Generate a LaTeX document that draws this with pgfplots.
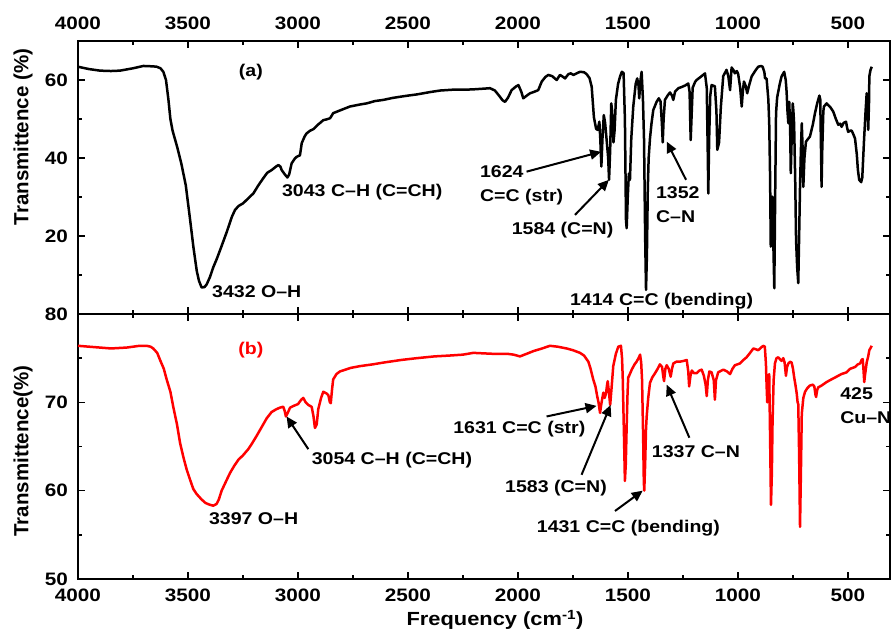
\documentclass[border=0pt]{standalone}
\usepackage{pgfplots}
\pgfplotsset{compat=1.18}
\usepackage{pgfplotstable}
\usepackage{fontspec}
\setmainfont{Liberation Sans}[FakeStretch=1.15]
\newfontfamily\rotfont{Liberation Sans}
\usetikzlibrary{arrows.meta}

\pgfplotstableread{
wn T
4000 63.4
3950 62.8
3900 62.4
3850 62.3
3809 62.4
3750 63.0
3703 63.6
3660 63.5
3642 63.4
3625 63.0
3612 62.1
3600 60.0
3589 55.0
3580 50.0
3570 47.0
3550 43.0
3530 38.5
3510 33.0
3490 24.0
3475 17.0
3460 11.0
3450 8.5
3438 6.8
3425 6.9
3415 7.6
3400 9.5
3385 12.0
3370 14.0
3350 17.0
3324 21.0
3300 25.0
3286 26.7
3270 27.7
3249 28.4
3220 30.0
3203 30.9
3180 33.0
3158 34.8
3140 36.2
3120 36.9
3100 37.8
3089 38.2
3080 37.8
3074 36.9
3060 35.8
3048 35.0
3040 35.8
3029 38.6
3015 39.8
3006 40.3
2991 40.7
2983 43.8
2970 45.5
2961 46.3
2945 47.0
2930 47.4
2910 48.5
2885 49.7
2870 49.9
2854 50.2
2840 51.5
2800 52.4
2764 53.2
2720 53.7
2688 54.0
2650 54.6
2612 54.9
2570 55.4
2536 55.7
2500 56.0
2460 56.3
2400 56.9
2354 57.3
2300 57.5
2250 57.5
2203 57.6
2150 57.8
2127 57.9
2105 57.3
2089 56.2
2070 54.8
2059 54.4
2045 55.5
2029 57.4
2010 58.3
1998 58.7
1985 57.0
1976 55.3
1960 56.0
1945 56.6
1925 57.0
1908 57.4
1892 59.6
1875 60.8
1862 61.3
1845 61.0
1824 60.0
1809 61.3
1795 60.8
1786 60.4
1771 61.5
1760 61.7
1748 61.3
1730 61.8
1718 62.1
1700 62.0
1688 61.5
1675 60.5
1665 58.3
1655 50.5
1645 47.5
1638 47.2
1630 49.3
1626 45.0
1621 37.8
1616 45.0
1610 51.0
1604 49.0
1597 44.6
1590 40.0
1586 34.4
1581 42.0
1576 54.0
1572 52.0
1566 44.0
1561 47.0
1555 54.9
1545 59.0
1536 60.9
1528 62.1
1520 61.8
1514 50.0
1509 24.0
1506 22.0
1501 30.0
1496 36.0
1491 34.4
1485 45.0
1476 53.2
1465 59.0
1458 60.4
1452 58.5
1449 55.3
1443 60.0
1438 62.1
1432 55.0
1427 44.6
1422 20.0
1418 6.2
1414 15.0
1410 32.0
1406 40.0
1400 45.0
1393 48.9
1385 52.3
1370 54.4
1360 55.3
1352 54.5
1346 49.0
1342 44.0
1338 50.0
1332 54.9
1320 56.0
1309 56.8
1300 56.0
1294 54.9
1286 57.0
1271 57.9
1256 58.2
1240 58.6
1226 59.1
1220 57.0
1215 44.6
1210 52.0
1206 58.0
1195 59.5
1188 60.0
1165 61.0
1150 61.7
1142 58.0
1137 40.0
1135 30.9
1131 45.0
1126 56.0
1120 58.7
1105 58.4
1098 52.0
1094 42.1
1090 43.0
1086 44.0
1078 53.0
1067 61.0
1052 62.6
1044 61.0
1036 57.4
1029 63.2
1020 62.5
1014 61.7
1005 62.3
999 61.5
990 58.0
983 53.2
978 57.0
973 59.6
965 58.5
958 56.6
950 58.5
938 60.9
920 62.5
908 63.4
895 63.6
888 63.4
880 62.0
877 60.4
870 60.4
862 55.0
858 48.9
854 35.0
851 17.3
848 25.0
844 30.1
840 20.0
835 6.6
831 30.0
827 51.5
822 55.5
817 57.0
810 59.0
802 60.9
790 62.1
783 60.0
779 57.0
775 52.0
771 48.9
767 54.4
763 48.0
760 36.1
756 45.0
751 54.0
748 52.0
745 48.9
740 35.0
736 19.0
731 12.0
726 7.9
722 20.0
718 32.6
714 42.0
710 48.9
706 42.0
703 32.6
698 40.0
691 44.2
680 45.0
673 45.5
660 48.5
650 51.5
640 54.0
630 56.0
626 55.0
622 40.0
620 32.6
617 42.0
612 52.0
609 53.2
597 54.0
580 53.0
567 51.9
555 50.0
544 48.5
535 48.8
529 48.0
520 49.0
509 49.3
503 47.5
499 46.7
490 47.0
483 47.0
475 46.0
468 45.0
460 41.0
455 37.0
449 34.4
440 33.8
435 35.0
427 44.6
420 52.0
415 56.6
410 52.0
408 47.2
404 55.0
403 60.9
398 62.5
392 63.4
}\dataA

\pgfplotstableread{
wn T
4000 76.4
3950 76.3
3900 76.2
3850 76.1
3779 76.2
3720 76.4
3688 76.4
3670 76.3
3658 76.1
3640 75.6
3627 74.8
3610 73.8
3597 72.6
3580 71.2
3567 69.5
3550 67.5
3536 65.4
3520 63.7
3506 62.4
3490 61.2
3476 60.2
3460 59.6
3438 59.0
3420 58.6
3400 58.4
3385 58.3
3370 58.5
3360 59.0
3347 60.0
3330 60.9
3309 62.0
3290 62.8
3271 63.5
3250 64.0
3226 64.7
3210 65.3
3188 66.2
3165 67.2
3142 68.2
3120 68.9
3100 69.2
3082 69.4
3067 69.5
3060 69.0
3055 68.4
3045 68.9
3036 69.4
3020 69.6
3000 69.8
2985 70.3
2976 70.5
2965 70.0
2953 69.7
2938 69.5
2930 68.5
2923 67.1
2915 67.5
2908 69.2
2895 70.5
2885 71.2
2870 71.0
2862 70.8
2855 70.0
2851 69.9
2845 71.5
2840 72.6
2825 73.2
2809 73.5
2760 73.9
2718 74.1
2660 74.3
2612 74.5
2530 74.8
2460 75.0
2380 75.2
2309 75.3
2250 75.4
2203 75.6
2120 75.5
2051 75.5
2020 75.4
1991 75.2
1960 75.5
1930 75.8
1890 76.1
1855 76.4
1820 76.3
1779 76.1
1750 75.9
1718 75.6
1700 75.3
1680 74.6
1670 73.8
1658 72.6
1648 71.8
1640 70.7
1634 70.0
1627 68.8
1620 70.0
1612 71.1
1606 70.5
1600 71.0
1595 72.0
1592 72.4
1586 71.0
1581 69.7
1575 71.5
1567 74.1
1555 75.5
1544 76.3
1532 76.4
1527 75.0
1524 72.9
1518 66.0
1514 61.1
1510 63.0
1506 67.3
1502 71.0
1499 72.8
1495 73.0
1483 73.7
1470 74.3
1461 74.6
1450 75.1
1445 75.4
1440 74.5
1436 72.5
1431 66.0
1428 61.0
1426 60.0
1422 63.0
1418 67.0
1415 68.4
1408 70.5
1400 72.2
1390 72.8
1377 73.3
1365 73.8
1355 74.3
1345 74.0
1340 73.0
1336 72.4
1330 73.8
1324 74.2
1315 73.8
1306 72.9
1300 73.8
1294 74.4
1280 74.6
1264 74.6
1245 74.7
1233 74.8
1226 73.5
1222 71.8
1216 73.0
1210 73.6
1200 73.3
1188 73.3
1175 73.6
1165 73.7
1155 73.0
1147 72.0
1142 70.7
1137 72.5
1130 73.5
1120 73.4
1110 72.5
1105 70.3
1100 72.5
1090 73.4
1067 73.7
1050 73.5
1036 73.2
1025 73.8
1014 74.2
991 74.4
975 74.8
961 75.1
945 75.6
930 76.1
918 76.0
908 75.9
895 76.2
885 76.4
878 76.3
873 74.4
870 72.0
867 70.0
863 72.5
858 73.2
854 66.0
850 58.4
846 62.0
843 67.6
838 72.5
832 74.4
825 75.0
817 75.1
810 74.9
802 74.7
794 75.0
788 74.5
782 73.0
777 74.0
771 74.4
763 74.6
756 74.5
750 73.8
745 72.9
739 72.0
733 71.0
729 70.0
726 69.8
722 64.0
718 55.9
714 62.0
710 68.7
703 70.5
695 71.2
685 71.6
673 71.9
660 72.0
653 71.8
648 70.9
645 70.6
640 71.4
635 71.7
620 71.9
597 72.3
575 72.6
552 72.9
530 73.2
506 73.4
490 73.8
468 74.0
455 74.3
445 74.4
438 74.8
433 74.9
429 73.5
426 72.3
422 73.2
415 74.5
408 75.2
403 75.9
392 76.4
}\dataB

\tikzset{
  ann/.style={font=\fontsize{17}{24}\selectfont\bfseries, inner sep=0pt, anchor=west, align=left},
  arr/.style={-{Triangle[length=11pt,width=10pt]}, line width=2pt, black},
}

\begin{document}
\begin{tikzpicture}
\pgfplotsset{
  base/.style={
    scale only axis, width=812pt, anchor=south west,
    xmin=309, xmax=4000, x dir=reverse,
    xtick={500,1000,...,4000}, minor xtick={750,1250,...,3750},
    tick align=inside, major tick length=7pt, minor tick length=4pt,
    axis line style={line width=1.4pt},
    major tick style={line width=1.4pt, black},
    minor tick style={line width=1.4pt, black},
    tick label style={font=\fontsize{18}{20}\selectfont\bfseries, inner sep=0pt},
    /pgf/number format/assume math mode=true,
    /pgf/number format/1000 sep={},
    scaled ticks=false, clip=false,
    yticklabel shift=10pt,
  },
}
% top panel (a)
\begin{axis}[base, at={(78pt,316pt)}, height=273pt,
  ymin=0, ymax=70, ytick={20,40,60}, minor ytick={10,30,50},
  xticklabel pos=upper, xticklabel shift=11pt]
\addplot[black, line width=2.5pt, line join=round, mark=none] table[x=wn,y=T]{\dataA};
\node[ann, anchor=center] at (axis cs:3214,62) {(a)};
\node[ann] at (axis cs:3391,5.6) {3432 O–H};
\node[ann] at (axis cs:3073,31.3) {3043 C–H (C=CH)};
\node[ann] at (axis cs:2173,33.1) {1624\\C=C (str)};
\draw[arr] (axis cs:1961,36.5) -- (axis cs:1622,41.6);
\node[ann] at (axis cs:2029,21.5) {1584 (C=N)};
\draw[arr] (axis cs:1741,25.4) -- (axis cs:1587,34.4);
\node[ann] at (axis cs:1373,28.1) {1352\\C–N};
\draw[arr] (axis cs:1236,34.4) -- (axis cs:1324,44.2);
\node[ann] at (axis cs:1764,3.2) {1414 C=C (bending)};
\end{axis}
% bottom panel (b)
\begin{axis}[base, at={(78pt,51pt)}, height=265pt,
  ymin=50, ymax=80, ytick={50,60,70,80}, minor ytick={55,65,75},
  xticklabel shift=10pt]
\addplot[red, line width=2.5pt, line join=round, mark=none] table[x=wn,y=T]{\dataB};
\node[ann, anchor=center, text=red] at (axis cs:3214,75.9) {(b)};
\node[ann] at (axis cs:3405,56.8) {3397 O–H};
\node[ann] at (axis cs:2938,63.5) {3054 C–H (C=CH)};
\draw[arr] (axis cs:2953,64.7) -- (axis cs:3052,68.4);
\node[ann] at (axis cs:2295,67.0) {1631 C=C (str)};
\draw[arr] (axis cs:1870,68.4) -- (axis cs:1643,69.6);
\node[ann] at (axis cs:2059,60.3) {1583 (C=N)};
\draw[arr] (axis cs:1711,61.8) -- (axis cs:1579,69.7);
\node[ann] at (axis cs:1915,55.8) {1431 C=C (bending)};
\draw[arr] (axis cs:1559,57.7) -- (axis cs:1433,60.0);
\node[ann] at (axis cs:1392,64.4) {1337 C–N};
\draw[arr] (axis cs:1221,66.0) -- (axis cs:1324,72.0);
\node[ann] at (axis cs:536,69.65) {425\\Cu–N};
\end{axis}
\node[rotate=90, font=\rotfont\fontsize{20.5}{22}\selectfont\bfseries, inner sep=0pt] at (23pt,493pt) {Transmittence (\%)};
\node[rotate=90, font=\rotfont\fontsize{20.5}{22}\selectfont\bfseries, inner sep=0pt] at (23pt,179pt) {Transmittence(\%)};
\node[anchor=base, font=\fontsize{19}{21}\selectfont\bfseries, inner sep=0pt] at (495pt,4.6pt) {Frequency (cm\textsuperscript{-1})};
\pgfresetboundingbox
\path (0pt,0pt) rectangle (891pt,630pt);
\end{tikzpicture}
\end{document}
